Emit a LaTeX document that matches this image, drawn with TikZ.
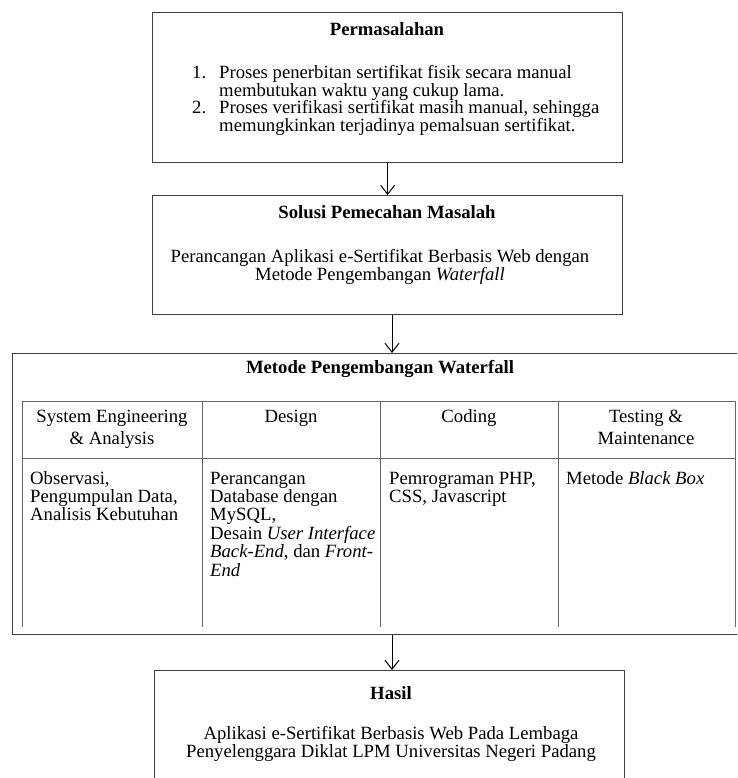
\documentclass[tikz,border=0pt]{standalone}
\usepackage{fontspec}
\setmainfont{Liberation Serif}
\usetikzlibrary{arrows.meta}
\newcommand{\txtblock}[2]{\parbox[t]{#1}{#2}}
\begin{document}
\begin{tikzpicture}[x=1pt,y=-1pt,
  frame/.style={draw=black!75, line width=1.3pt, inner sep=0pt, anchor=north west},
  grid/.style={draw=black!60, line width=0.9pt},
  flow/.style={draw=black, line width=1pt, -{Straight Barb[length=9pt,width=14pt,line width=1pt]}},
  txt/.style={inner sep=0pt, font=\fontsize{18.7}{18}\selectfont},
  head/.style={txt, anchor=base, font=\fontsize{18.7}{18}\selectfont\bfseries},
  cell/.style={txt, anchor=base west, font=\fontsize{18.7}{18.4}\selectfont},
  ]
\useasboundingbox (0,0) rectangle (737,778);
\clip (0,0) rectangle (737,778);
\fill[white] (0,0) rectangle (737,778);

% outer boxes
\node[frame, minimum width=470, minimum height=150] (prob) at (152,12) {};
\node[frame, minimum width=470, minimum height=119] (sol) at (152,195) {};
\node[frame, minimum width=740, minimum height=281] (wf) at (12,353) {};
\node[frame, minimum width=470, minimum height=140] (res) at (154,670) {};

% connectors
\coordinate (ax) at (392,0);
\draw[flow] (prob.south) -- (sol.north);
\draw[flow] (ax |- sol.south) -- (ax |- wf.north);
\draw[flow] (ax |- wf.south) -- (ax |- res.north);

% problem statement
\node[head] (probT) at (387,36) {Permasalahan};
\node[txt, anchor=base west, font=\fontsize{18.7}{17.7}\selectfont] (probL) at (192,78.5) {\txtblock{420pt}{%
\makebox[27pt][l]{1.}Proses penerbitan sertifikat fisik secara manual\\
\hspace*{27pt}membutukan waktu yang cukup lama.\\
\makebox[27pt][l]{2.}Proses verifikasi sertifikat masih manual, sehingga\\
\hspace*{27pt}memungkinkan terjadinya pemalsuan sertifikat.}};

% solution
\node[head] (solT) at (387,218.5) {Solusi Pemecahan Masalah};
\node[txt, anchor=base] (solL) at (380,262.5) {\txtblock{460pt}{\centering
Perancangan Aplikasi e-Sertifikat Berbasis Web dengan\\
Metode Pengembangan \textit{Waterfall}}};

% waterfall table
\node[head] (wfT) at (380,373.5) {Metode Pengembangan Waterfall};
\draw[grid] (22,627) -- (22,401) -- (735,401) -- (735,627);
\draw[grid] (22,458) -- (735,458);
\foreach \cx in {202,380,558} \draw[grid] (\cx,401) -- (\cx,627);

\node[txt, anchor=base, font=\fontsize{18.7}{22.5}\selectfont] (h1) at (112,422) {\txtblock{176pt}{\centering System Engineering\\ \& Analysis}};
\node[txt, anchor=base] (h2) at (291,422) {Design};
\node[txt, anchor=base] (h3) at (469,422) {Coding};
\node[txt, anchor=base, font=\fontsize{18.7}{22.5}\selectfont] (h4) at (646,422) {\txtblock{176pt}{\centering Testing \&\\ Maintenance}};

\node[cell] (c1) at (30,484) {\txtblock{170pt}{\raggedright
Observasi,\\ Pengumpulan Data,\\ Analisis Kebutuhan}};
\node[cell] (c2) at (210,484) {\txtblock{170pt}{\raggedright
Perancangan\\ Database dengan\\ MySQL,\\ Desain \textit{User Interface}\\ \textit{Back-End}, dan \textit{Front-}\\ \textit{End}}};
\node[cell] (c3) at (389,484) {\txtblock{170pt}{\raggedright
Pemrograman PHP,\\ CSS, Javascript}};
\node[cell] (c4) at (566,484) {Metode \textit{Black Box}};

% result
\node[head] (resT) at (391,699.5) {Hasil};
\node[txt, anchor=base] (resL) at (391,739.5) {\txtblock{460pt}{\centering
Aplikasi e-Sertifikat Berbasis Web Pada Lembaga\\
Penyelenggara Diklat LPM Universitas Negeri Padang}};
\end{tikzpicture}
\end{document}
